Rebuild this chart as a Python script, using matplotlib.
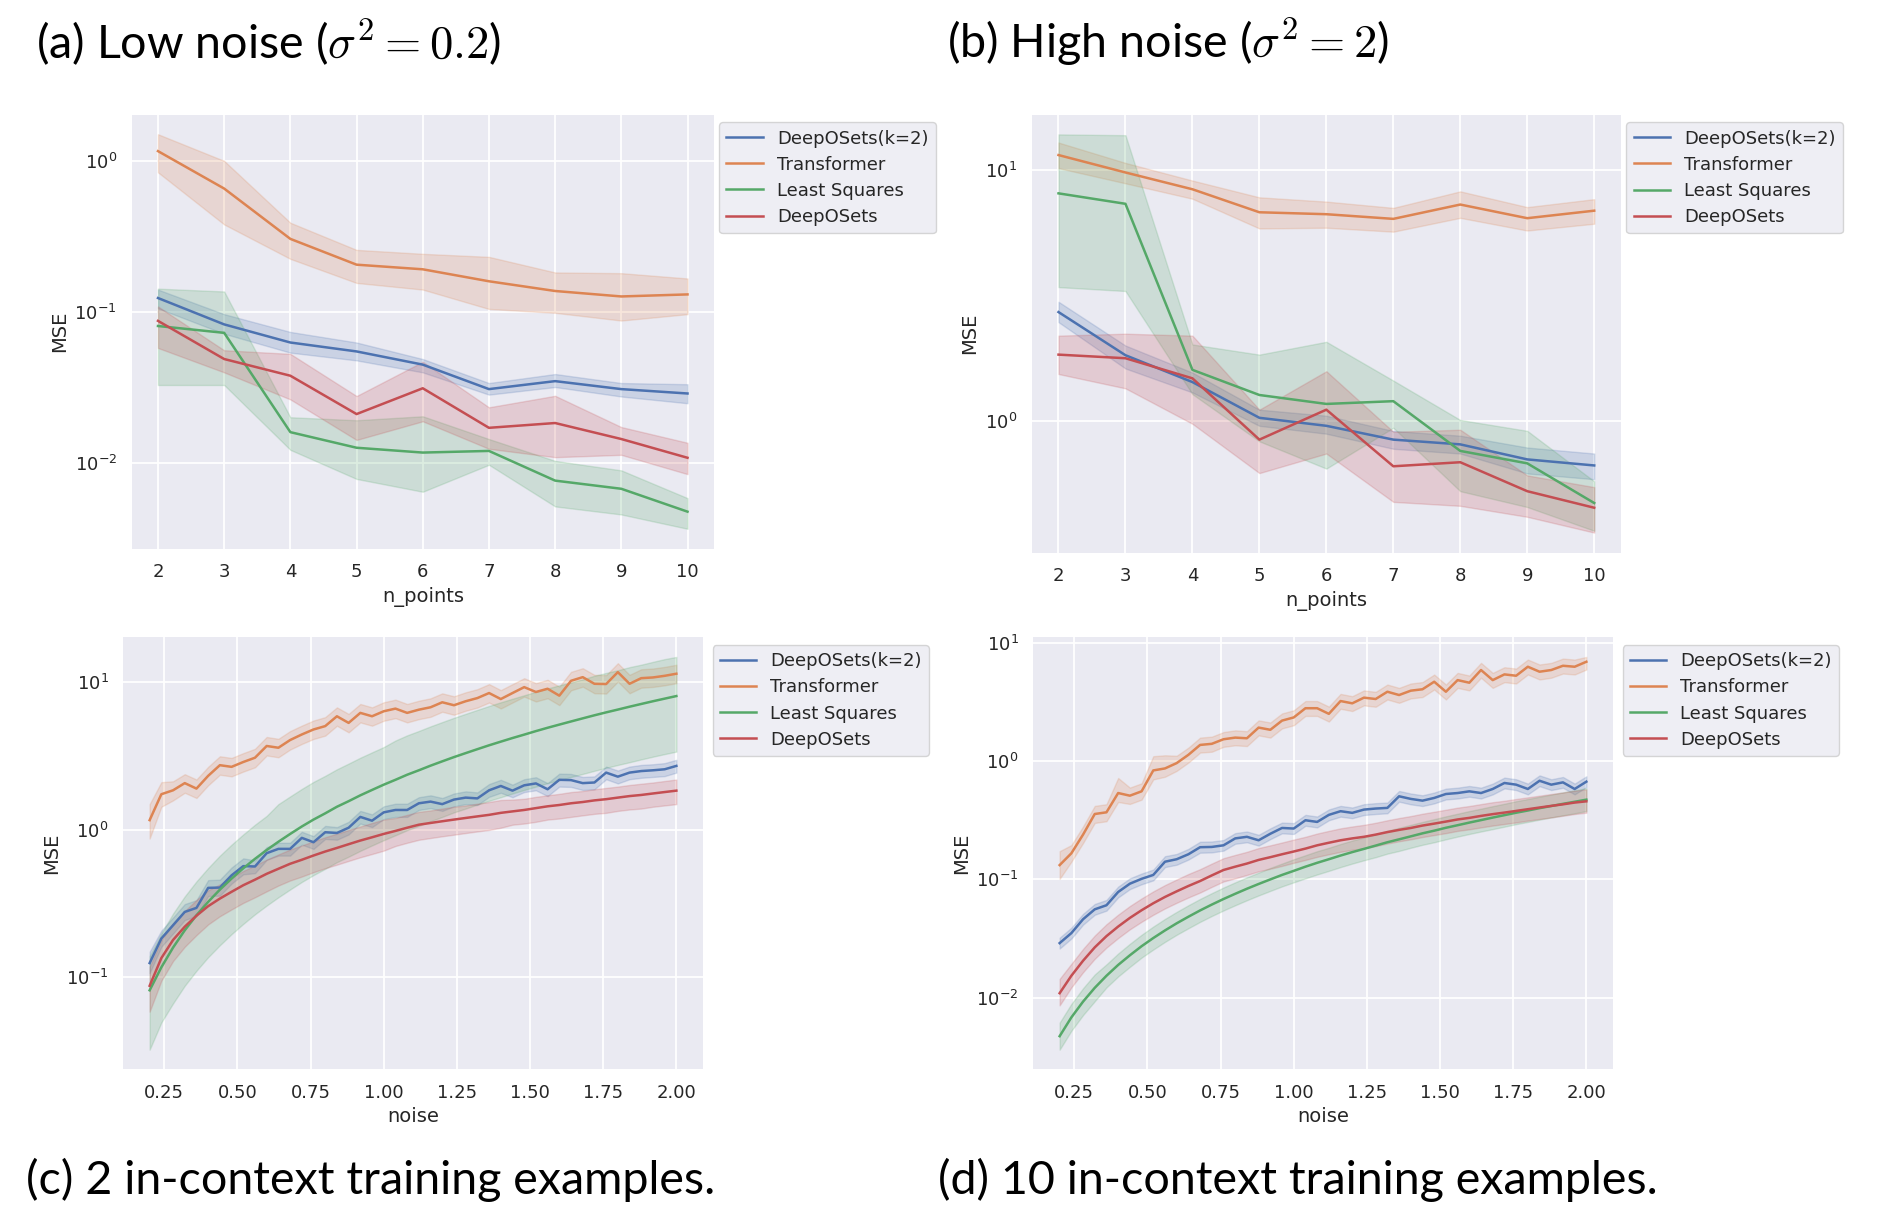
import matplotlib
matplotlib.use("Agg")
import matplotlib.pyplot as plt
from matplotlib.ticker import NullFormatter, NullLocator, FormatStrFormatter

W, H = 1891, 1209

labels = ["DeepOSets(k=2)", "Transformer", "Least Squares", "DeepOSets"]
colors = ["#4C72B0", "#DD8452", "#55A868", "#C44E52"]

# ---- (a) low noise, MSE vs n_points ----
n_points = [2, 3, 4, 5, 6, 7, 8, 9, 10]
a_k2 = [0.124, 0.083, 0.063, 0.055, 0.045, 0.031, 0.035, 0.031, 0.029]
a_k2_lo = [0.106, 0.072, 0.054, 0.048, 0.040, 0.0285, 0.032, 0.0277, 0.025]
a_k2_hi = [0.141, 0.097, 0.074, 0.063, 0.049, 0.034, 0.039, 0.034, 0.0334]
a_tf = [1.16, 0.656, 0.305, 0.206, 0.192, 0.160, 0.138, 0.127, 0.131]
a_tf_lo = [0.84, 0.38, 0.225, 0.156, 0.141, 0.105, 0.099, 0.088, 0.097]
a_tf_hi = [1.50, 1.00, 0.39, 0.258, 0.243, 0.232, 0.183, 0.181, 0.167]
a_ls = [0.081, 0.073, 0.0161, 0.0127, 0.0118, 0.0121, 0.0077, 0.0068, 0.0048]
a_ls_lo = [0.033, 0.033, 0.0123, 0.0079, 0.0065, 0.0098, 0.0052, 0.0046, 0.0037]
a_ls_hi = [0.143, 0.137, 0.0202, 0.0193, 0.0205, 0.0145, 0.0104, 0.009, 0.0059]
a_ds = [0.0876, 0.049, 0.038, 0.0212, 0.0314, 0.0172, 0.0185, 0.0145, 0.0109]
a_ds_lo = [0.058, 0.040, 0.0265, 0.0143, 0.019, 0.0125, 0.011, 0.0114, 0.0085]
a_ds_hi = [0.109, 0.056, 0.053, 0.0279, 0.047, 0.0235, 0.028, 0.0174, 0.0137]

# ---- (b) high noise, MSE vs n_points ----
b_k2 = [2.72, 1.83, 1.43, 1.03, 0.957, 0.843, 0.807, 0.703, 0.665]
b_k2_lo = [2.48, 1.62, 1.30, 0.957, 0.89, 0.775, 0.742, 0.618, 0.586]
b_k2_hi = [2.99, 2.0, 1.56, 1.11, 1.05, 0.913, 0.874, 0.784, 0.742]
b_tf = [11.5, 9.8, 8.4, 6.8, 6.68, 6.4, 7.3, 6.44, 6.9]
b_tf_lo = [10.2, 8.87, 7.7, 5.86, 5.9, 5.69, 6.46, 5.75, 6.12]
b_tf_hi = [12.9, 10.7, 9.1, 7.8, 7.5, 7.08, 8.24, 7.13, 7.67]
b_ls = [8.09, 7.35, 1.60, 1.27, 1.17, 1.20, 0.76, 0.678, 0.471]
b_ls_lo = [3.42, 3.3, 1.28, 0.83, 0.646, 0.94, 0.525, 0.454, 0.365]
b_ls_hi = [13.9, 13.8, 2.02, 1.84, 2.07, 1.45, 1.01, 0.914, 0.575]
b_ds = [1.84, 1.78, 1.48, 0.843, 1.11, 0.66, 0.685, 0.525, 0.451]
b_ds_lo = [1.54, 1.35, 0.975, 0.62, 0.742, 0.476, 0.459, 0.415, 0.359]
b_ds_hi = [2.19, 2.23, 2.19, 1.11, 1.58, 0.906, 0.923, 0.607, 0.545]

# ---- (c)/(d) MSE vs noise ----
noise = [0.20, 0.24, 0.28, 0.32, 0.36, 0.40, 0.44, 0.48, 0.52, 0.56,
         0.60, 0.64, 0.68, 0.72, 0.76, 0.80, 0.84, 0.88, 0.92, 0.96,
         1.00, 1.04, 1.08, 1.12, 1.16, 1.20, 1.24, 1.28, 1.32, 1.36,
         1.40, 1.44, 1.48, 1.52, 1.56, 1.60, 1.64, 1.68, 1.72, 1.76,
         1.80, 1.84, 1.88, 1.92, 1.96, 2.00]

# (c) 2 in-context examples
c_k2 = [0.124, 0.182, 0.224, 0.276, 0.294, 0.402, 0.404, 0.489, 0.565, 0.562,
        0.692, 0.740, 0.740, 0.879, 0.821, 0.960, 0.949, 1.03, 1.22, 1.15,
        1.31, 1.36, 1.36, 1.51, 1.55, 1.49, 1.60, 1.65, 1.63, 1.85,
        1.98, 1.84, 2.00, 2.06, 1.88, 2.18, 2.17, 2.07, 2.09, 2.44,
        2.29, 2.44, 2.50, 2.53, 2.57, 2.71]
c_k2_lo = [0.106, 0.160, 0.197, 0.243, 0.259, 0.354, 0.356, 0.430, 0.497, 0.506,
           0.623, 0.666, 0.666, 0.791, 0.739, 0.864, 0.854, 0.927, 1.10, 1.04,
           1.18, 1.22, 1.22, 1.36, 1.40, 1.34, 1.44, 1.49, 1.47, 1.67,
           1.78, 1.66, 1.80, 1.85, 1.69, 1.96, 1.95, 1.86, 1.88, 2.20,
           2.06, 2.20, 2.25, 2.28, 2.31, 2.44]
c_k2_hi = [0.148, 0.206, 0.253, 0.312, 0.332, 0.454, 0.457, 0.553, 0.638, 0.618,
           0.761, 0.814, 0.814, 0.967, 0.903, 1.06, 1.04, 1.13, 1.34, 1.27,
           1.44, 1.50, 1.50, 1.66, 1.71, 1.64, 1.76, 1.82, 1.79, 2.04,
           2.18, 2.02, 2.20, 2.27, 2.07, 2.40, 2.39, 2.28, 2.30, 2.68,
           2.52, 2.68, 2.75, 2.78, 2.83, 2.98]
c_tf = [1.16, 1.74, 1.85, 2.07, 1.90, 2.32, 2.74, 2.67, 2.88, 3.08,
        3.70, 3.60, 4.06, 4.43, 4.79, 5.05, 5.89, 5.31, 6.21, 5.89,
        6.37, 6.64, 6.21, 6.53, 6.78, 7.33, 7.00, 7.45, 7.83, 8.47,
        7.71, 8.47, 9.29, 8.61, 9.06, 8.13, 10.26, 10.86, 9.79, 9.75,
        11.75, 9.79, 10.69, 10.81, 11.09, 11.46]
c_tf_lo = [0.87, 1.43, 1.58, 1.78, 1.64, 2.00, 2.36, 2.30, 2.48, 2.65,
           3.19, 3.10, 3.50, 3.82, 4.13, 4.35, 5.08, 4.58, 5.35, 5.08,
           5.49, 5.72, 5.35, 5.63, 5.84, 6.32, 6.03, 6.42, 6.75, 7.30,
           6.65, 7.30, 8.01, 7.42, 7.81, 7.01, 8.84, 9.36, 8.44, 8.40,
           10.13, 8.44, 9.21, 9.32, 9.56, 9.88]
c_tf_hi = [1.49, 2.10, 2.13, 2.38, 2.19, 2.67, 3.15, 3.07, 3.31, 3.54,
           4.26, 4.14, 4.67, 5.09, 5.51, 5.81, 6.77, 6.11, 7.14, 6.77,
           7.33, 7.64, 7.14, 7.51, 7.80, 8.43, 8.05, 8.57, 9.00, 9.74,
           8.87, 9.74, 10.68, 9.90, 10.42, 9.35, 11.80, 12.49, 11.26, 11.21,
           13.51, 11.26, 12.29, 12.43, 12.75, 13.18]
c_ls = [0.081, 0.116, 0.158, 0.207, 0.262, 0.323, 0.391, 0.465, 0.546, 0.633,
        0.727, 0.827, 0.934, 1.05, 1.17, 1.29, 1.43, 1.56, 1.71, 1.86,
        2.02, 2.18, 2.36, 2.53, 2.72, 2.91, 3.11, 3.31, 3.52, 3.74,
        3.96, 4.19, 4.42, 4.67, 4.92, 5.17, 5.43, 5.70, 5.98, 6.26,
        6.54, 6.84, 7.14, 7.45, 7.76, 8.08]
c_ls_lo = [0.032, 0.049, 0.066, 0.087, 0.110, 0.136, 0.164, 0.195, 0.229, 0.266,
           0.305, 0.347, 0.392, 0.441, 0.491, 0.542, 0.601, 0.655, 0.718, 0.781,
           0.848, 0.916, 0.991, 1.06, 1.14, 1.22, 1.31, 1.39, 1.48, 1.57,
           1.66, 1.76, 1.86, 1.96, 2.07, 2.17, 2.28, 2.39, 2.51, 2.63,
           2.75, 2.87, 3.00, 3.13, 3.26, 3.39]
c_ls_hi = [0.138, 0.197, 0.269, 0.352, 0.445, 0.549, 0.665, 0.791, 0.928, 1.08,
           1.24, 1.49, 1.68, 1.89, 2.11, 2.32, 2.57, 2.81, 3.08, 3.35,
           3.64, 4.03, 4.37, 4.68, 5.03, 5.38, 5.75, 6.12, 6.51, 6.92,
           7.33, 7.75, 8.18, 8.64, 9.10, 9.56, 10.0, 10.5, 11.1, 11.6,
           12.1, 12.7, 13.2, 13.8, 14.4, 14.9]
c_ds = [0.0869, 0.134, 0.178, 0.219, 0.260, 0.302, 0.340, 0.378, 0.419, 0.457,
        0.501, 0.542, 0.586, 0.624, 0.667, 0.710, 0.751, 0.796, 0.843, 0.887,
        0.935, 0.980, 1.03, 1.08, 1.11, 1.14, 1.17, 1.20, 1.23, 1.26,
        1.30, 1.33, 1.36, 1.40, 1.44, 1.47, 1.51, 1.54, 1.58, 1.61,
        1.65, 1.69, 1.72, 1.76, 1.80, 1.84]
c_ds_lo = [0.058, 0.094, 0.128, 0.160, 0.192, 0.227, 0.258, 0.287, 0.318, 0.347,
           0.381, 0.417, 0.451, 0.480, 0.514, 0.547, 0.578, 0.613, 0.649, 0.683,
           0.720, 0.774, 0.814, 0.853, 0.877, 0.901, 0.924, 0.948, 0.972, 0.995,
           1.03, 1.08, 1.10, 1.13, 1.17, 1.19, 1.22, 1.25, 1.28, 1.30,
           1.34, 1.37, 1.39, 1.43, 1.46, 1.49]
c_ds_hi = [0.117, 0.177, 0.231, 0.280, 0.333, 0.387, 0.425, 0.473, 0.524, 0.571,
           0.626, 0.678, 0.733, 0.780, 0.834, 0.888, 0.939, 0.995, 1.05, 1.11,
           1.17, 1.20, 1.26, 1.32, 1.35, 1.39, 1.43, 1.46, 1.50, 1.54,
           1.59, 1.60, 1.62, 1.67, 1.71, 1.75, 1.80, 1.83, 1.88, 1.92,
           1.96, 2.01, 2.05, 2.09, 2.14, 2.19]

# (d) 10 in-context examples
d_k2 = [0.0289, 0.0351, 0.046, 0.0558, 0.0604, 0.0782, 0.0919, 0.101, 0.109, 0.141,
        0.148, 0.163, 0.187, 0.188, 0.194, 0.222, 0.229, 0.214, 0.243, 0.272,
        0.269, 0.316, 0.306, 0.351, 0.377, 0.365, 0.389, 0.397, 0.402, 0.504,
        0.479, 0.463, 0.488, 0.527, 0.537, 0.555, 0.537, 0.581, 0.653, 0.632,
        0.581, 0.682, 0.632, 0.661, 0.581, 0.670]
d_k2_lo = [0.0260, 0.0316, 0.0414, 0.0502, 0.0544, 0.0704, 0.0827, 0.0909, 0.0981, 0.127,
           0.133, 0.147, 0.168, 0.169, 0.175, 0.200, 0.206, 0.193, 0.219, 0.245,
           0.242, 0.284, 0.275, 0.316, 0.339, 0.329, 0.350, 0.357, 0.362, 0.454,
           0.431, 0.417, 0.439, 0.474, 0.483, 0.500, 0.483, 0.523, 0.588, 0.569,
           0.523, 0.614, 0.569, 0.595, 0.523, 0.603]
d_k2_hi = [0.0321, 0.0390, 0.0511, 0.0619, 0.0670, 0.0868, 0.102, 0.112, 0.121, 0.157,
           0.164, 0.181, 0.208, 0.209, 0.215, 0.246, 0.254, 0.238, 0.270, 0.302,
           0.299, 0.351, 0.340, 0.390, 0.418, 0.405, 0.432, 0.441, 0.446, 0.559,
           0.532, 0.514, 0.542, 0.585, 0.596, 0.616, 0.596, 0.645, 0.725, 0.702,
           0.645, 0.757, 0.702, 0.734, 0.645, 0.744]
d_tf = [0.132, 0.166, 0.239, 0.357, 0.369, 0.537, 0.510, 0.555, 0.834, 0.867,
        0.962, 1.13, 1.37, 1.40, 1.53, 1.58, 1.56, 1.92, 1.84, 2.20,
        2.34, 2.80, 2.80, 2.51, 3.22, 3.08, 3.44, 3.35, 3.86, 3.62,
        3.94, 4.05, 4.69, 3.86, 4.84, 4.60, 5.89, 4.84, 5.41, 5.27,
        6.28, 5.70, 5.89, 6.40, 6.28, 6.92]
d_tf_lo = [0.101, 0.141, 0.203, 0.300, 0.310, 0.451, 0.434, 0.472, 0.700, 0.737,
           0.827, 0.972, 1.18, 1.20, 1.32, 1.36, 1.34, 1.65, 1.58, 1.89,
           2.01, 2.41, 2.41, 2.16, 2.77, 2.65, 2.96, 2.88, 3.32, 3.11,
           3.39, 3.48, 4.03, 3.32, 4.16, 3.96, 5.07, 4.16, 4.65, 4.53,
           5.40, 4.90, 5.07, 5.50, 5.40, 5.95]
d_tf_hi = [0.173, 0.195, 0.280, 0.418, 0.432, 0.720, 0.597, 0.649, 1.10, 1.12,
           1.11, 1.30, 1.58, 1.61, 1.76, 1.82, 1.79, 2.21, 2.12, 2.53,
           2.69, 3.22, 3.22, 2.89, 3.70, 3.54, 3.96, 3.85, 4.44, 4.16,
           4.53, 4.66, 5.39, 4.44, 5.57, 5.29, 6.77, 5.57, 6.22, 6.06,
           7.22, 6.56, 6.77, 7.36, 7.22, 7.60]
d_ls = [0.00472, 0.0068, 0.00925, 0.0121, 0.0153, 0.0189, 0.0228, 0.0272, 0.0319, 0.0370,
        0.0425, 0.0483, 0.0546, 0.0612, 0.0682, 0.0755, 0.0833, 0.0914, 0.0999, 0.109,
        0.118, 0.128, 0.138, 0.148, 0.159, 0.170, 0.181, 0.193, 0.206, 0.218,
        0.231, 0.245, 0.258, 0.273, 0.287, 0.302, 0.317, 0.333, 0.349, 0.366,
        0.382, 0.400, 0.417, 0.435, 0.453, 0.472]
d_ls_lo = [0.00363, 0.00524, 0.00712, 0.00932, 0.0122, 0.0151, 0.0182, 0.0218, 0.0255, 0.0296,
           0.0340, 0.0386, 0.0437, 0.0490, 0.0546, 0.0604, 0.0666, 0.0731, 0.0799, 0.0872,
           0.0944, 0.102, 0.110, 0.118, 0.127, 0.136, 0.145, 0.154, 0.165, 0.174,
           0.185, 0.196, 0.206, 0.218, 0.230, 0.242, 0.254, 0.266, 0.279, 0.293,
           0.306, 0.320, 0.334, 0.348, 0.362, 0.378]
d_ls_hi = [0.00614, 0.00884, 0.0120, 0.0157, 0.0191, 0.0236, 0.0285, 0.0340, 0.0399, 0.0463,
           0.0531, 0.0604, 0.0683, 0.0765, 0.0853, 0.0944, 0.104, 0.114, 0.125, 0.136,
           0.148, 0.160, 0.173, 0.185, 0.199, 0.213, 0.226, 0.241, 0.258, 0.273,
           0.289, 0.306, 0.323, 0.341, 0.359, 0.378, 0.396, 0.416, 0.436, 0.458,
           0.478, 0.500, 0.521, 0.544, 0.566, 0.590]
d_ds = [0.0109, 0.0153, 0.0205, 0.0266, 0.0331, 0.0399, 0.0472, 0.0548, 0.0628, 0.0710,
        0.0792, 0.0879, 0.0968, 0.108, 0.120, 0.128, 0.136, 0.146, 0.154, 0.163,
        0.172, 0.182, 0.194, 0.204, 0.214, 0.222, 0.229, 0.239, 0.251, 0.262,
        0.272, 0.285, 0.296, 0.308, 0.321, 0.331, 0.344, 0.356, 0.367, 0.379,
        0.392, 0.405, 0.418, 0.431, 0.446, 0.457]
d_ds_lo = [0.0086, 0.0122, 0.0164, 0.0213, 0.0265, 0.0319, 0.0378, 0.0438, 0.0502, 0.0568,
           0.0634, 0.0703, 0.0774, 0.0864, 0.0960, 0.102, 0.109, 0.117, 0.123, 0.130,
           0.138, 0.146, 0.155, 0.163, 0.171, 0.178, 0.183, 0.191, 0.201, 0.210,
           0.218, 0.228, 0.237, 0.246, 0.257, 0.265, 0.275, 0.285, 0.294, 0.303,
           0.314, 0.324, 0.334, 0.345, 0.357, 0.366]
d_ds_hi = [0.0144, 0.0193, 0.0258, 0.0335, 0.0417, 0.0503, 0.0595, 0.0690, 0.0791, 0.0895,
           0.0998, 0.111, 0.122, 0.136, 0.151, 0.161, 0.171, 0.184, 0.194, 0.205,
           0.217, 0.229, 0.244, 0.257, 0.270, 0.280, 0.289, 0.301, 0.316, 0.330,
           0.343, 0.359, 0.373, 0.388, 0.404, 0.417, 0.433, 0.449, 0.462, 0.478,
           0.494, 0.510, 0.527, 0.543, 0.562, 0.576]

noise_ticks = [0.25, 0.50, 0.75, 1.00, 1.25, 1.50, 1.75, 2.00]

# seaborn "darkgrid"-like look without importing seaborn
plt.rcParams.update({
    "font.family": "DejaVu Sans",
    "axes.facecolor": "#EAEAF2",
    "axes.edgecolor": "white",
    "axes.grid": True,
    "axes.axisbelow": True,
    "grid.color": "white",
    "grid.linewidth": 1.3,
    "xtick.bottom": False,
    "ytick.left": False,
    "text.color": "0.15",
    "axes.labelcolor": "0.15",
    "xtick.color": "0.15",
    "ytick.color": "0.15",
    "xtick.labelsize": 13,
    "ytick.labelsize": 13,
    "axes.labelsize": 14,
    "legend.fontsize": 13,
})

fig = plt.figure(figsize=(W / 100, H / 100), dpi=100)


def add_ax(l, r, t, b):
    # pixel box -> figure fraction
    return fig.add_axes([l / W, 1 - b / H, (r - l) / W, (b - t) / H])


def panel(ax, x, series, xlabel, leg_x):
    for (m, lo, hi), c, lab in zip(series, colors, labels):
        ax.fill_between(x, lo, hi, color=c, alpha=0.2)
        ax.plot(x, m, color=c, lw=1.8, label=lab)
    ax.set_yscale("log")
    ax.yaxis.set_minor_locator(NullLocator())
    ax.yaxis.set_minor_formatter(NullFormatter())
    ax.set_ylabel("MSE")
    ax.set_xlabel(xlabel)
    ax.tick_params(axis="both", pad=7)
    for s in ax.spines.values():
        s.set_visible(False)
    ax.legend(loc="upper left", bbox_to_anchor=(leg_x, 0.982), borderaxespad=0,
              labelspacing=0.45, facecolor="#EAEAF2", edgecolor="0.8", framealpha=0.8)


ax_a = add_ax(131.5, 714, 114.5, 548.5)
panel(ax_a, n_points, [(a_k2, a_k2_lo, a_k2_hi), (a_tf, a_tf_lo, a_tf_hi),
                       (a_ls, a_ls_lo, a_ls_hi), (a_ds, a_ds_lo, a_ds_hi)], "n_points", 1.009)
ax_a.set_xticks(n_points)

ax_b = add_ax(1031.7, 1621, 114.5, 552.5)
panel(ax_b, n_points, [(b_k2, b_k2_lo, b_k2_hi), (b_tf, b_tf_lo, b_tf_hi),
                       (b_ls, b_ls_lo, b_ls_hi), (b_ds, b_ds_lo, b_ds_hi)], "n_points", 1.009)
ax_b.set_xticks(n_points)

ax_c = add_ax(123.3, 702.7, 637.3, 1069.3)
panel(ax_c, noise, [(c_k2, c_k2_lo, c_k2_hi), (c_tf, c_tf_lo, c_tf_hi),
                    (c_ls, c_ls_lo, c_ls_hi), (c_ds, c_ds_lo, c_ds_hi)], "noise", 1.017)

ax_d = add_ax(1033.3, 1612.7, 637.3, 1069.3)
panel(ax_d, noise, [(d_k2, d_k2_lo, d_k2_hi), (d_tf, d_tf_lo, d_tf_hi),
                    (d_ls, d_ls_lo, d_ls_hi), (d_ds, d_ds_lo, d_ds_hi)], "noise", 1.017)

for ax in (ax_c, ax_d):
    ax.set_xticks(noise_ticks)
    ax.xaxis.set_major_formatter(FormatStrFormatter("%.2f"))

# subfigure captions
cap = dict(fontsize=33.6, family="Lato", math_fontfamily="cm", va="baseline", color="black")
fig.text(36 / W, 1 - 58 / H, r"(a) Low noise ($\sigma^2 = 0.2$)", **cap)
fig.text(947 / W, 1 - 58 / H, r"(b) High noise ($\sigma^2 = 2$)", **cap)
fig.text(26 / W, 1 - 1194 / H, "(c) 2 in-context training examples.", **cap)
fig.text(938 / W, 1 - 1194 / H, "(d) 10 in-context training examples.", **cap)

fig.savefig("out.png", dpi=100)
